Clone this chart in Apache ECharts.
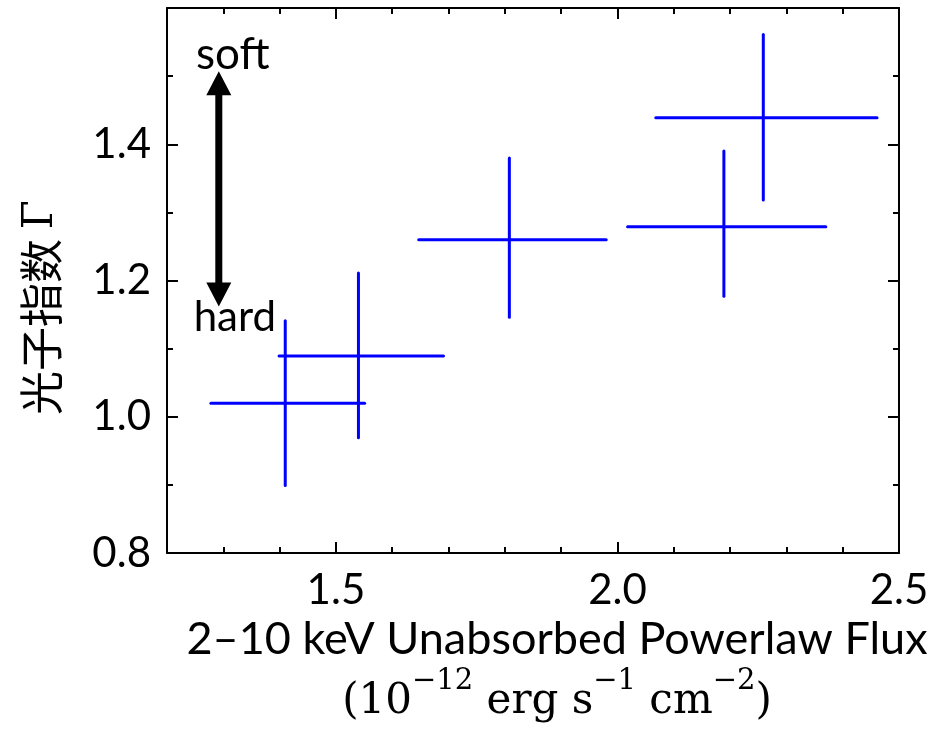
<!DOCTYPE html>
<html><head><meta charset="utf-8">
<script src="https://cdn.jsdelivr.net/npm/echarts@6/dist/echarts.min.js"></script>
<style>html,body{margin:0;padding:0;background:#fff}#c{width:942px;height:730px}</style>
</head><body><div id="c"></div>
<script>
// ---- data ----
const fluxX       = [1.410, 1.540, 1.808, 2.189, 2.259];
const fluxErrLow  = [0.132, 0.141, 0.161, 0.171, 0.191];
const fluxErrHigh = [0.141, 0.151, 0.172, 0.181, 0.202];
const gamma        = [1.020, 1.089, 1.260, 1.279, 1.439];
const gammaErrLow  = [0.121, 0.120, 0.114, 0.102, 0.121];
const gammaErrHigh = [0.121, 0.122, 0.120, 0.111, 0.122];
const xMajorTicks = [1.5, 2.0, 2.5];
const xMinorTicks = [1.3, 1.4, 1.6, 1.7, 1.8, 1.9, 2.1, 2.2, 2.3, 2.4];
const yMajorTicks = [0.8, 1.0, 1.2, 1.4];
const yMinorTicks = [0.9, 1.1, 1.3, 1.5];
const arrowX = 1.292, arrowLow = 1.162, arrowHigh = 1.507;
const arrowTopLabel = 'soft', arrowBottomLabel = 'hard';

const LATO = 'Lato';
const SERIF = 'DejaVu Serif';
const lineStyle = {color:'#000', width:2};

function xAxisDef(pos, major, withLabel) {
  return {
    type:'value', position:pos, min:1.2, max:2.5,
    axisLine:{show:major, lineStyle:lineStyle},
    axisTick:{show:true, inside:true, length: major?11:6, lineStyle:lineStyle,
              customValues: major ? xMajorTicks : xMinorTicks},
    axisLabel:{show:withLabel, customValues:xMajorTicks, fontFamily:LATO, fontSize:42, color:'#000', margin:16,
               formatter:v=>v.toFixed(1)},
    splitLine:{show:false}
  };
}
function yAxisDef(pos, major, withLabel) {
  return {
    type:'value', position:pos, min:0.8, max:1.6,
    axisLine:{show:major, lineStyle:lineStyle},
    axisTick:{show:true, inside:true, length: major?11:6, lineStyle:lineStyle,
              customValues: major ? yMajorTicks : yMinorTicks},
    axisLabel:{show:withLabel, customValues:yMajorTicks, fontFamily:LATO, fontSize:42, color:'#000', margin:16,
               formatter:v=>v.toFixed(1)},
    splitLine:{show:false}
  };
}

const xMain = xAxisDef('bottom', true, true);
xMain.name = '{a|2–10 keV Unabsorbed Powerlaw Flux}\n{b|(10}{s|−12}{b| erg s}{s|−1}{b| cm}{s|−2}{b|)}';
xMain.nameLocation = 'middle';
xMain.nameGap = 58;
xMain.nameTextStyle = {
  color:'#000', padding:[0,0,0,48],
  rich:{
    a:{fontFamily:LATO, fontSize:45, lineHeight:56, color:'#000'},
    b:{fontFamily:SERIF, fontSize:42, lineHeight:56, color:'#000', verticalAlign:'bottom'},
    s:{fontFamily:SERIF, fontSize:29, lineHeight:56, color:'#000', verticalAlign:'top'}
  }
};
const yMain = yAxisDef('left', true, true);
yMain.name = '{c|光子指数 }{g|Γ}';
yMain.nameLocation = 'middle';
yMain.nameRotate = 90;
yMain.nameGap = 104;
yMain.nameTextStyle = {
  color:'#000', padding:[0,54,0,0],
  rich:{
    c:{fontFamily:'Noto Sans CJK SC', fontSize:44, color:'#000'},
    g:{fontFamily:SERIF, fontSize:42, color:'#000'}
  }
};

const errData = fluxX.map((v,i)=>[v, gamma[i], fluxErrLow[i], fluxErrHigh[i], gammaErrLow[i], gammaErrHigh[i]]);

const option = {
  animation:false,
  backgroundColor:'#fff',
  grid:{left:167, top:8, right:43, bottom:177, outerBoundsMode:'none', containLabel:false},
  xAxis:[xMain, xAxisDef('bottom', false, false), xAxisDef('top', true, false), xAxisDef('top', false, false)],
  yAxis:[yMain, yAxisDef('left', false, false), yAxisDef('right', true, false), yAxisDef('right', false, false)],
  series:[
    {
      type:'custom', xAxisIndex:0, yAxisIndex:0, data:errData,
      renderItem:function(params, api){
        const x=api.value(0), y=api.value(1);
        const pL=api.coord([x-api.value(2), y]), pR=api.coord([x+api.value(3), y]);
        const pB=api.coord([x, y-api.value(4)]), pT=api.coord([x, y+api.value(5)]);
        const st={stroke:'#0000ff', lineWidth:3, lineCap:'round'};
        return {type:'group', children:[
          {type:'line', shape:{x1:pL[0],y1:pL[1],x2:pR[0],y2:pR[1]}, style:st},
          {type:'line', shape:{x1:pB[0],y1:pB[1],x2:pT[0],y2:pT[1]}, style:st}
        ]};
      }
    },
    {
      type:'custom', xAxisIndex:0, yAxisIndex:0, data:[[arrowX, arrowLow, arrowHigh]],
      renderItem:function(params, api){
        const t=api.coord([api.value(0), api.value(2)]);
        const b=api.coord([api.value(0), api.value(1)]);
        const cx=t[0], hw=12.5, hl=24, sw=3.5;
        const pts=[[cx,t[1]],[cx+hw,t[1]+hl],[cx+sw,t[1]+hl],[cx+sw,b[1]-hl],[cx+hw,b[1]-hl],[cx,b[1]],
                   [cx-hw,b[1]-hl],[cx-sw,b[1]-hl],[cx-sw,t[1]+hl],[cx-hw,t[1]+hl]];
        return {type:'group', children:[
          {type:'polygon', shape:{points:pts}, style:{fill:'#000'}},
          {type:'text', x:cx+14, y:t[1]-17, style:{text:arrowTopLabel, fontFamily:LATO, fontSize:44, fill:'#000', align:'center', verticalAlign:'middle'}},
          {type:'text', x:cx+16, y:b[1]+11, style:{text:arrowBottomLabel, fontFamily:LATO, fontSize:42, fill:'#000', align:'center', verticalAlign:'middle'}}
        ]};
      }
    }
  ]
};
const chart = echarts.init(document.getElementById('c'), null, {renderer:'canvas'});
chart.setOption(option);
</script>
</body></html>
